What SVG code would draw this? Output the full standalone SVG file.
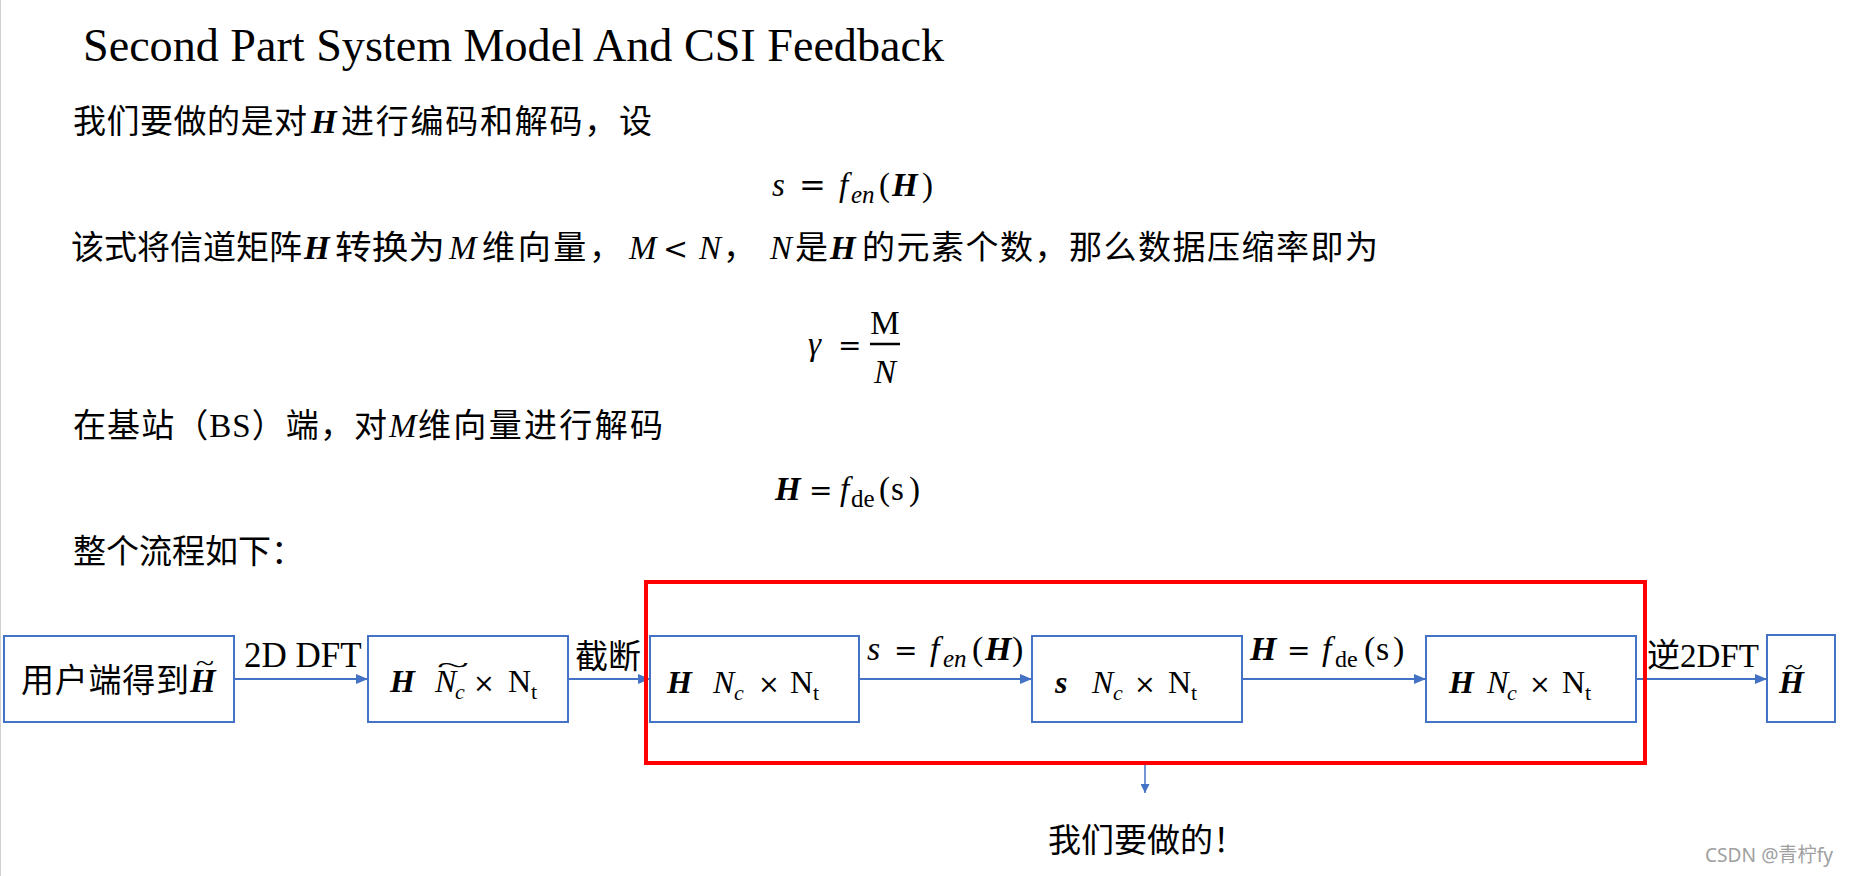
<svg xmlns="http://www.w3.org/2000/svg" width="1849" height="876" viewBox="0 0 1849 876">
<style>
.t{font-family:"Liberation Serif","Noto Sans CJK SC",serif;fill:#000}
.op{font-family:"DejaVu Serif","Liberation Serif",serif;fill:#000}
.c33{font-size:33px}
.m32{font-size:32px}
.m34{font-size:34px}
.s22{font-size:22px}
.s24{font-size:24px}
.s25{font-size:25px}
.bi{font-weight:bold;font-style:italic}
.i{font-style:italic}
.box{fill:#fff;stroke:#4472C4;stroke-width:2}
.conn{stroke:#4472C4;stroke-width:2;fill:none}
.tl{font-family:"Liberation Serif",serif;font-size:26px;fill:#000}
</style>
<defs>
<marker id="ah" viewBox="0 0 12 10" refX="12" refY="5" markerWidth="12" markerHeight="10" markerUnits="userSpaceOnUse" orient="auto">
<path d="M0,0 L12,5 L0,10 z" fill="#4472C4"/>
</marker>
<marker id="ahs" viewBox="0 0 10 10" refX="10" refY="5" markerWidth="10" markerHeight="9" markerUnits="userSpaceOnUse" orient="auto">
<path d="M0,0 L10,5 L0,10 z" fill="#4472C4"/>
</marker>
</defs>
<rect x="0" y="0" width="1849" height="876" fill="#fff"/>
<line x1="0.5" y1="0" x2="0.5" y2="876" stroke="#d0d0d0" stroke-width="1"/>

<g id="text-body">
<text class="t" x="83" y="61" font-size="46" textLength="861" lengthAdjust="spacingAndGlyphs">Second Part System Model And CSI Feedback</text>

<text class="t c33" y="133"><tspan x="73" textLength="234" lengthAdjust="spacing">我们要做的是对</tspan><tspan x="311" class="bi">H</tspan><tspan x="341" textLength="311" lengthAdjust="spacing">进行编码和解码，设</tspan></text>

<text class="t c33 i" x="772" y="196">s</text>
<text class="op" x="799" y="196" font-size="32">=</text>
<text class="t c33 i" x="839" y="196">f</text>
<text class="t s25 i" x="851" y="203">en</text>
<text class="t c33" y="196"><tspan x="879">(</tspan><tspan x="892" class="bi">H</tspan><tspan x="922">)</tspan></text>

<text class="t c33" y="259"><tspan x="71" textLength="231" lengthAdjust="spacing">该式将信道矩阵</tspan><tspan x="304" class="bi">H</tspan><tspan x="335" textLength="110" lengthAdjust="spacingAndGlyphs">转换为</tspan><tspan x="449" class="i">M</tspan><tspan x="482" textLength="140" lengthAdjust="spacing">维向量，</tspan><tspan x="629" class="i">M</tspan></text>
<text class="op" x="663" y="259" font-size="30">&lt;</text>
<text class="t c33" y="259"><tspan x="699" class="i">N</tspan><tspan x="723">，</tspan><tspan x="770" class="i">N</tspan><tspan x="795">是</tspan><tspan x="830" class="bi">H</tspan><tspan x="862" textLength="516" lengthAdjust="spacing">的元素个数，那么数据压缩率即为</tspan></text>

<text class="t c33 i" x="808" y="355">γ</text>
<text class="op" x="838" y="355" font-size="28">=</text>
<text class="t c33" x="885" y="334" text-anchor="middle">M</text>
<line x1="870" y1="344" x2="900" y2="344" stroke="#000" stroke-width="2.5"/>
<text class="t c33 i" x="885" y="383" text-anchor="middle">N</text>

<text class="t c33" y="437"><tspan x="73" textLength="314" lengthAdjust="spacing">在基站（BS）端，对</tspan><tspan x="389" class="i">M</tspan><tspan x="418" textLength="245" lengthAdjust="spacing">维向量进行解码</tspan></text>

<text class="t c33 bi" x="775" y="500">H</text>
<text class="op" x="809" y="500" font-size="28">=</text>
<text class="t c33 i" x="840" y="500">f</text>
<text class="t s25" x="851" y="507">de</text>
<text class="t c33" y="500"><tspan x="879">(</tspan><tspan x="891">s</tspan><tspan x="909">)</tspan></text>

<text class="t c33" x="73" y="563">整个流程如下：</text>
</g>

<g id="connectors">
<line class="conn" x1="234" y1="679" x2="368" y2="679" marker-end="url(#ah)"/>
<line class="conn" x1="568" y1="679" x2="650" y2="679" marker-end="url(#ah)"/>
<line class="conn" x1="859" y1="679" x2="1032" y2="679" marker-end="url(#ah)"/>
<line class="conn" x1="1242" y1="679" x2="1426" y2="679" marker-end="url(#ah)"/>
<line class="conn" x1="1636" y1="679" x2="1767" y2="679" marker-end="url(#ah)"/>
<line x1="1145" y1="765" x2="1145" y2="793" stroke="#4472C4" stroke-width="1.5" marker-end="url(#ahs)"/>

<text class="t" x="244" y="667" font-size="35">2D DFT</text>
<text class="t c33" x="575" y="668">截断</text>

<text class="t m34 i" x="867" y="660">s</text>
<text class="op" x="894" y="660" font-size="28">=</text>
<text class="t m34 i" x="930" y="660">f</text>
<text class="t s25 i" x="943" y="667">en</text>
<text class="t m34" y="660"><tspan x="972">(</tspan><tspan x="985" class="bi">H</tspan><tspan x="1012">)</tspan></text>

<text class="t m34 bi" x="1250" y="660">H</text>
<text class="op" x="1287" y="660" font-size="28">=</text>
<text class="t m34 i" x="1322" y="660">f</text>
<text class="t s24" x="1335" y="667">de</text>
<text class="t m34" y="660"><tspan x="1364">(</tspan><tspan x="1376">s</tspan><tspan x="1393">)</tspan></text>

<text class="t c33" x="1647" y="667">逆2DFT</text>
</g>

<g id="node-user">
<rect class="box" x="4" y="636" width="230" height="86"/>
<text class="t c33" y="692"><tspan x="21" textLength="168" lengthAdjust="spacing">用户端得到</tspan><tspan x="190" class="bi">H</tspan></text>
<text class="tl" text-anchor="middle" transform="translate(205,671) scale(1.3,1)">~</text>
</g>

<g id="node-dft">
<rect class="box" x="368" y="636" width="200" height="86"/>
<text class="t m32" y="692"><tspan x="390" class="bi">H</tspan><tspan x="435" class="i">N</tspan></text>
<text class="t s22 i" x="455" y="699">c</text>
<text class="tl" text-anchor="middle" transform="translate(453,673) scale(2.3,1)">~</text>
<text class="op" x="473" y="692" font-size="26">×</text>
<text class="t m32" x="508" y="692">N</text>
<text class="t s22" x="531" y="699">t</text>
</g>

<g id="node-truncated">
<rect class="box" x="650" y="636" width="209" height="86"/>
<text class="t m32" y="693"><tspan x="667" class="bi">H</tspan><tspan x="713" class="i">N</tspan></text>
<text class="t s22 i" x="734" y="700">c</text>
<text class="op" x="758" y="693" font-size="26">×</text>
<text class="t m32" x="790" y="693">N</text>
<text class="t s22" x="813" y="700">t</text>
</g>

<g id="node-code">
<rect class="box" x="1032" y="636" width="210" height="86"/>
<text class="t m32" y="693"><tspan x="1055" class="bi">s</tspan><tspan x="1092" class="i">N</tspan></text>
<text class="t s22 i" x="1113" y="700">c</text>
<text class="op" x="1134" y="693" font-size="26">×</text>
<text class="t m32" x="1168" y="693">N</text>
<text class="t s22" x="1191" y="700">t</text>
</g>

<g id="node-decoded">
<rect class="box" x="1426" y="636" width="210" height="86"/>
<text class="t m32" y="693"><tspan x="1449" class="bi">H</tspan><tspan x="1487" class="i">N</tspan></text>
<text class="t s22 i" x="1507" y="700">c</text>
<text class="op" x="1529" y="693" font-size="26">×</text>
<text class="t m32" x="1562" y="693">N</text>
<text class="t s22" x="1585" y="700">t</text>
</g>

<g id="node-final">
<rect class="box" x="1767" y="635" width="68" height="87"/>
<text class="t m32 bi" x="1779" y="693">H</text>
<text class="tl" text-anchor="middle" transform="translate(1794,675) scale(1.3,1)">~</text>
</g>

<g id="highlight">
<rect x="646" y="582" width="999" height="181" fill="none" stroke="#FF0000" stroke-width="4"/>
<text class="t c33" x="1048" y="852">我们要做的！</text>
</g>

<text x="1705" y="862" font-family="'Noto Sans','Noto Sans CJK SC',sans-serif" font-size="20" fill="#a0a0a0" textLength="128" lengthAdjust="spacingAndGlyphs">CSDN @青柠fy</text>
</svg>
